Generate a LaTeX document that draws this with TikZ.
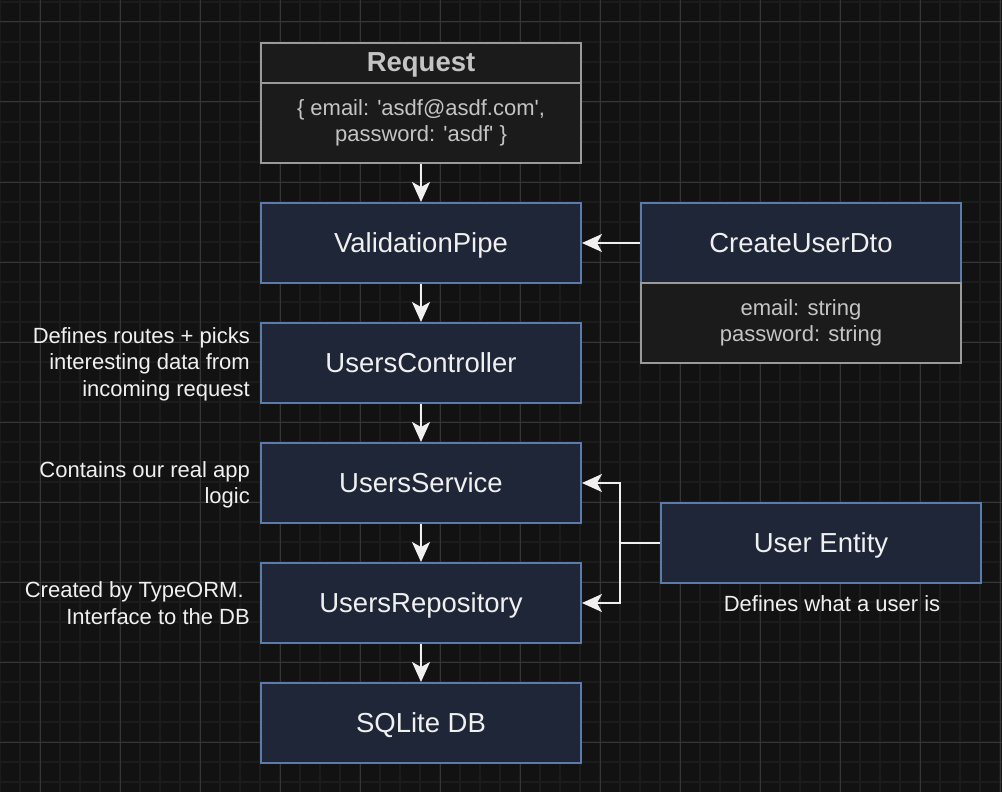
\documentclass[tikz,border=0pt]{standalone}
\usepackage{fontspec}
\setmainfont{Liberation Sans}
\usepackage{xcolor}
\usepackage{tikz}
\usetikzlibrary{arrows.meta}

\definecolor{bg}{HTML}{121212}
\definecolor{gridminor}{HTML}{1C1C1C}
\definecolor{gridmajor}{HTML}{363636}
\definecolor{boxfill}{HTML}{1E2637}
\definecolor{boxline}{HTML}{5B7BA8}
\definecolor{plainfill}{HTML}{1B1B1B}
\definecolor{plainline}{HTML}{9A9A9A}
\definecolor{plaintext}{HTML}{C4C4C4}
\definecolor{lighttext}{HTML}{F0F0F0}

\newcommand{\sq}{\textquotesingle}

\tikzset{
  layer/.style={draw=boxline, fill=boxfill, line width=2pt, inner sep=0pt,
    minimum width=320pt, minimum height=80pt, text=lighttext,
    text height=22pt, text depth=4pt,
    font=\fontsize{27.5}{33}\selectfont},
  fieldbox/.style={draw=plainline, fill=plainfill, line width=2pt, inner sep=0pt,
    minimum width=320pt, minimum height=80pt, text=plaintext, align=center,
    font=\fontsize{22}{26}\selectfont},
  note/.style={text=lighttext, inner sep=0pt, font=\fontsize{22}{26.4}\selectfont},
  arr/.style={draw=lighttext, line width=2pt,
    -{Stealth[length=20pt,width=18pt,inset=5pt,fill=lighttext]}}
}

\begin{document}
\begin{tikzpicture}[x=1pt, y=-1pt]
      \useasboundingbox (0,0) rectangle (1002,792);
      \fill[bg] (0,0) rectangle (1002,792);
      \begin{scope}
        \clip (0,0) rectangle (1002,792);
        \foreach \x in {0,20,...,1000} \draw[gridminor, line width=2pt] (\x,0) -- (\x,792);
        \foreach \y in {2,22,...,782}  \draw[gridminor, line width=2pt] (0,\y) -- (1002,\y);
        \foreach \x in {40,120,...,1000} \draw[gridmajor, line width=1pt] (\x,0) -- (\x,792);
        \foreach \y in {22,102,...,782}  \draw[gridmajor, line width=1pt] (0,\y) -- (1002,\y);
      \end{scope}

      \node[fieldbox, minimum height=40pt, text height=21pt, text depth=3pt,
            font=\fontsize{27.5}{33}\selectfont\bfseries]
            (reqhead) at (421, 63) {Request};
      \node[fieldbox] (req) at (421,123) {\{ email: \sq asdf@asdf.com\sq,\\ password: \sq asdf\sq\ \}};

      \node[layer](vp) at (421,243) {ValidationPipe};
      \node[layer](uc) at (421,363) {UsersController};
      \node[layer](us) at (421,483) {UsersService};
      \node[layer](ur) at (421,603) {UsersRepository};
      \node[layer](db) at (421,723) {SQLite DB};

      \node[layer]   (dto)  at (801,243) {CreateUserDto};
      \node[fieldbox](dtof) at (801,323) {email: string\\ password: string};

      \node[layer](ue) at (821,543) {User Entity};

      \node[note, anchor=east, align=right] (ucnote) at (250,364)
            {Defines routes + picks\\ interesting data from\\ incoming request};
      \node[note, anchor=east, align=right] (usnote) at (250,485)
            {Contains our real app\\ logic};
      \node[note, anchor=east, align=right] (urnote) at (250,603)
            {Created by TypeORM.\hphantom{ }\\ Interface to the DB};
      \node[note] (uenote) at (832,604) {Defines what a user is};

      \draw[arr](req) edge (vp)
               (vp)  edge (uc)
               (uc)  edge (us)
               (us)  edge (ur)
               (ur)  edge (db)
               (dto) edge (vp);
      \draw[arr](ue.west) -- ++(-40,0) |- (us.east);
      \draw[arr](ue.west) -- ++(-40,0) |- (ur.east);
    \end{tikzpicture}
\end{document}
